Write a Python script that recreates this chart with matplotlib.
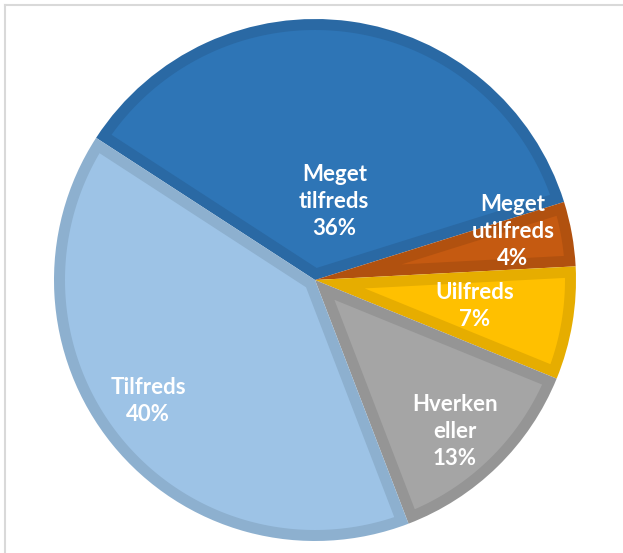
import matplotlib.pyplot as plt
import numpy as np
from matplotlib.lines import Line2D
from matplotlib.patches import Polygon

# data
labels = ["Meget\ntilfreds", "Meget\nutilfreds", "Uilfreds", "Hverken\neller", "Tilfreds"]
values = [36, 4, 7, 13, 40]
fills = ["#2E75B6", "#C55A11", "#FFC000", "#A5A5A5", "#9DC3E6"]
edges = ["#2A69A4", "#B1510F", "#E6AD00", "#959595", "#8DB0CF"]
# label placement: distance from centre (fraction of radius), angle tweak (deg)
label_dist = [0.31, 0.78, 0.62, 0.79, 0.79]
label_turn = [-6, 3.5, 0.5, -1.8, -3]

W, H = 623, 553
fig = plt.figure(figsize=(W / 100, H / 100), dpi=100)
fig.patch.set_facecolor("white")

# chart frame (only top/left visible)
fig.add_artist(Line2D([4.5 / W, 1], [1 - 4.5 / H, 1 - 4.5 / H], color="#D9D9D9", lw=1.5))
fig.add_artist(Line2D([4.5 / W, 4.5 / W], [0, 1 - 4.5 / H], color="#D9D9D9", lw=1.5))

cx, cy, R = 315, 280, 261
ax = fig.add_axes([(cx - R) / W, (H - cy - R) / H, 2 * R / W, 2 * R / H])

# outer wedges in the border colour
wedges, _ = ax.pie(values, colors=edges, startangle=147, counterclock=False,
                   radius=1, wedgeprops=dict(linewidth=0))
ax.set_xlim(-1, 1)
ax.set_ylim(-1, 1)
ax.axis("off")

# inner (inset) wedges in the fill colour -> border drawn inside each slice
d = 11 / R
for w, fc in zip(wedges, fills):
    t1, t2 = np.deg2rad(w.theta1), np.deg2rad(w.theta2)
    mid = (t1 + t2) / 2
    off = d / np.sin((t2 - t1) / 2)
    r = w.r - d
    dt = np.arcsin(d / r)
    ts = np.linspace(t1 + dt, t2 - dt, 200)
    pts = [(off * np.cos(mid), off * np.sin(mid))] + list(zip(r * np.cos(ts), r * np.sin(ts)))
    ax.add_patch(Polygon(pts, closed=True, facecolor=fc, edgecolor="none"))

for w, lab, v, dist, turn in zip(wedges, labels, values, label_dist, label_turn):
    mid = np.deg2rad((w.theta1 + w.theta2) / 2 + turn)
    ax.text(dist * np.cos(mid), dist * np.sin(mid), f"{lab}\n{v}%", ha="center", va="center",
            color="white", fontsize=16, fontweight="bold", family="Lato",
            linespacing=1.35)

plt.savefig("out.png", dpi=100)
